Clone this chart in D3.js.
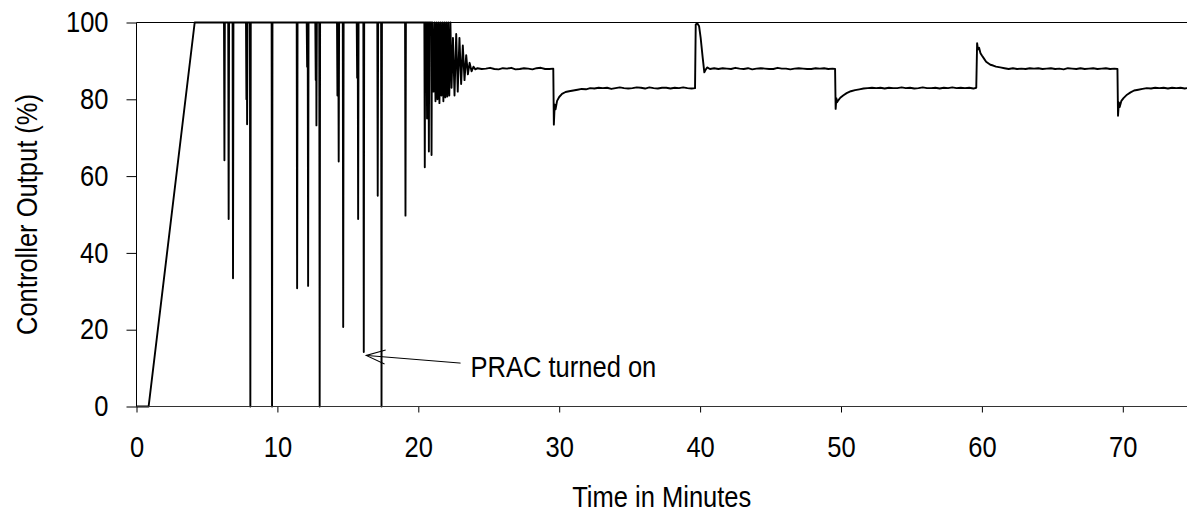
<!DOCTYPE html>
<html>
<head>
<meta charset="utf-8">
<script src="https://cdn.jsdelivr.net/npm/d3@7"></script>
<style>
  html, body { margin: 0; padding: 0; background: #fff; }
  svg { display: block; }
  text { font-family: 'Liberation Sans', Arial, sans-serif; fill: #000; }
</style>
</head>
<body>
<svg id="chart" width="1187" height="522"></svg>
<script>
// ---------------- data ----------------
const xTicks = [0, 10, 20, 30, 40, 50, 60, 70];
const yTicks = [0, 20, 40, 60, 80, 100];
const xTitle = "Time in Minutes";
const yTitle = "Controller Output (%)";
const noteText = "PRAC turned on";
const noteTip = [16.3, 13.3];   // minutes, %
const noteTail = [23.0, 11.3];

// start-up ramp
const rampTime   = [0, 0.86, 4.13];
const rampOutput = [0, 0, 100];

// saturated period: output sits at 100 with narrow drops
const spikeTime = [6.24, 6.54, 6.85, 7.80, 7.85, 8.08, 9.62, 11.40, 12.11, 12.18, 12.72, 12.77, 13.00,
                   14.26, 14.35, 14.67, 15.66, 15.73, 16.13, 17.12, 17.39, 19.09, 20.46, 20.62, 20.75, 20.94];
const spikeMin  = [64.1, 48.8, 33.4, 80.0, 73.5, 0, 0, 30.8, 88.5, 31.4, 85.0, 73.2, 0,
                   81.0, 63.8, 20.7, 85.6, 48.8, 14.2, 54.9, 0, 49.7, 62.3, 75.0, 66.4, 65.5];

// chattering and settling once PRAC acts
const oscTime = [21.00, 21.08, 21.15, 21.22, 21.29, 21.36, 21.43, 21.50, 21.57, 21.64, 21.71, 21.78, 21.85,
                 21.92, 21.99, 22.06, 22.13, 22.20, 22.28, 22.36, 22.46, 22.57, 22.69, 22.80, 22.92, 23.04,
                 23.16, 23.28, 23.40, 23.52, 23.64, 23.78, 23.92, 24.05];
const oscOutput = [100, 82, 100, 79.5, 100, 80, 100, 79, 100, 81, 100, 79.5, 100,
                   80.5, 100, 80.7, 100, 81, 100, 83, 96, 81, 97, 82, 96, 84,
                   94, 85, 91.5, 86.5, 89.5, 87.3, 88.5, 87.8];

// regulated run with set-point steps every 10 minutes
const runTime = [
  24.2, 24.5, 24.8, 25.1, 25.4, 25.7, 26.0, 26.3, 26.6, 26.9, 27.2, 27.5, 27.8, 28.1, 28.4, 28.7, 29.0, 29.3, 29.58,
  29.62, 29.68, 29.74, 29.85, 30.0, 30.2, 30.45, 30.7, 31.0, 31.3, 31.6, 31.9, 32.2,
  32.5, 32.8, 33.1, 33.4, 33.7, 34.0, 34.3, 34.6, 34.9, 35.2, 35.5, 35.8, 36.1, 36.4, 36.7, 37.0, 37.3, 37.6, 37.9,
  38.2, 38.5, 38.8, 39.1, 39.4, 39.64,
  39.69, 39.8, 39.93, 40.04, 40.18, 40.3, 40.38, 40.5, 40.7, 41.0,
  41.3, 41.6, 41.9, 42.2, 42.5, 42.8, 43.1, 43.4, 43.7, 44.0, 44.3, 44.6, 44.9, 45.2, 45.5, 45.8, 46.1, 46.4, 46.7,
  47.0, 47.3, 47.6, 47.9, 48.2, 48.5, 48.8, 49.1, 49.4, 49.58,
  49.62, 49.67, 49.72, 49.82, 49.95, 50.15, 50.4, 50.7, 51.0, 51.3, 51.6,
  51.9, 52.2, 52.5, 52.8, 53.1, 53.4, 53.7, 54.0, 54.3, 54.6, 54.9, 55.2, 55.5, 55.8, 56.1, 56.4, 56.7, 57.0, 57.3,
  57.6, 57.9, 58.2, 58.5, 58.8, 59.1, 59.4, 59.6,
  59.66, 59.72, 59.8, 59.9, 60.0, 60.15, 60.3, 60.45, 60.6, 60.8, 61.0, 61.3, 61.6, 61.9,
  62.2, 62.5, 62.8, 63.1, 63.4, 63.7, 64.0, 64.3, 64.6, 64.9, 65.2, 65.5, 65.8, 66.1, 66.4, 66.7, 67.0, 67.3, 67.6,
  67.9, 68.2, 68.5, 68.8, 69.1, 69.4, 69.62,
  69.66, 69.72, 69.78, 69.9, 70.05, 70.3, 70.55, 70.8, 71.1, 71.4, 71.7,
  72.0, 72.3, 72.6, 72.9, 73.2, 73.5, 73.8, 74.1, 74.4, 74.7, 75.0
];
const runOutput = [
  88.1, 87.9, 88.0, 88.2, 87.9, 87.8, 88.1, 88.0, 88.2, 87.8, 87.9, 88.1, 88.0, 87.8, 88.1, 88.2, 87.9, 87.9, 88.0,
  73.4, 78.6, 77.4, 79.6, 80.6, 81.4, 81.9, 82.1, 82.3, 82.5, 82.7, 82.6, 82.9,
  82.8, 83.0, 82.9, 83.0, 82.7, 82.9, 83.1, 82.9, 82.8, 82.9, 83.1, 83.0, 82.8, 83.1, 82.9, 82.8, 83.0, 83.0, 82.8,
  83.0, 82.9, 83.1, 82.9, 82.8, 82.9,
  99.5, 99.8, 99.0, 96.0, 91.0, 87.0, 87.6, 88.3, 87.9, 88.1,
  87.9, 88.1, 88.0, 87.9, 88.2, 88.0, 87.9, 88.1, 87.8, 88.0, 88.1, 88.0, 87.9, 87.9, 88.2, 88.0, 88.0, 87.8, 88.0,
  88.1, 88.0, 87.9, 87.9, 88.1, 88.0, 88.1, 87.9, 88.0, 87.9,
  77.5, 80.3, 79.2, 79.8, 80.4, 81.0, 81.6, 82.1, 82.4, 82.6, 82.8,
  82.9, 83.0, 82.9, 83.0, 82.8, 83.0, 82.9, 82.9, 83.1, 82.9, 83.0, 82.8, 82.9, 83.1, 82.9, 82.9, 83.0, 82.8, 83.0,
  82.9, 83.1, 82.9, 83.0, 82.9, 83.0, 82.8, 83.0,
  94.6, 93.0, 93.4, 92.0, 91.4, 90.6, 89.8, 89.4, 89.0, 88.8, 88.5, 88.3, 88.1, 87.9,
  88.1, 87.9, 88.0, 87.9, 88.1, 88.0, 88.1, 87.9, 88.0, 88.1, 87.9, 88.0, 87.8, 88.1, 88.0, 87.9, 88.1, 87.9, 88.0,
  88.1, 87.9, 88.0, 88.1, 87.9, 88.0, 87.9,
  75.7, 79.2, 78.0, 79.6, 80.3, 81.2, 81.8, 82.3, 82.5, 82.7, 82.9,
  82.8, 83.0, 82.9, 83.0, 82.8, 83.0, 82.9, 83.0, 82.8, 83.0, 82.9
];

// ---------------- build series ----------------
const pts = [];
rampTime.forEach((t, i) => pts.push({t, v: rampOutput[i]}));
const spikeHalf = 0.03;
spikeTime.forEach((t, i) => {
  pts.push({t: t - spikeHalf, v: 100});
  pts.push({t, v: spikeMin[i]});
  pts.push({t: t + spikeHalf, v: 100});
});
oscTime.forEach((t, i) => pts.push({t, v: oscOutput[i]}));
runTime.forEach((t, i) => pts.push({t, v: runOutput[i]}));
pts.sort((a, b) => a.t - b.t);

// ---------------- layout ----------------
const svg = d3.select("#chart");
const W = 1187, H = 522;
const plotLeft = 136.5, plotTop = 22.5, plotBottom = 406.5;
const pxPerMin = 14.09;
const x = d3.scaleLinear().domain([0, 75]).range([plotLeft, plotLeft + 75 * pxPerMin]);
const y = d3.scaleLinear().domain([0, 100]).range([plotBottom, plotTop]);
const fontSize = 29;
const narrow = 0.88;   // condensed look of the original face

// top border of plot area
svg.append("line")
  .attr("x1", plotLeft).attr("x2", W).attr("y1", plotTop).attr("y2", plotTop)
  .attr("stroke", "#000").attr("stroke-width", 1);

// data line
svg.append("path")
  .datum(pts)
  .attr("fill", "none")
  .attr("stroke", "#000")
  .attr("stroke-width", 1.9)
  .attr("stroke-linejoin", "round")
  .attr("d", d3.line().x(d => x(d.t)).y(d => y(d.v)));

// x axis
const gx = svg.append("g").attr("transform", `translate(0,${plotBottom})`)
  .call(d3.axisBottom(x).tickValues(xTicks).tickSize(6).tickSizeOuter(0).tickPadding(24));
gx.select(".domain").remove();
gx.append("line").attr("x1", plotLeft).attr("x2", W).attr("y1", 0).attr("y2", 0)
  .attr("stroke", "#333").attr("stroke-width", 1);
gx.selectAll(".tick line").attr("stroke", "#000");
gx.selectAll(".tick text").attr("font-size", fontSize).attr("font-family", null)
  .attr("transform", `scale(${narrow},1)`);

// y axis
const gy = svg.append("g").attr("transform", `translate(${plotLeft},0)`)
  .call(d3.axisLeft(y).tickValues(yTicks).tickSize(10).tickSizeOuter(0).tickPadding(17));
gy.select(".domain").remove();
gy.append("line").attr("x1", 0).attr("x2", 0).attr("y1", plotTop).attr("y2", plotBottom)
  .attr("stroke", "#000").attr("stroke-width", 1);
gy.selectAll(".tick line").attr("stroke", "#000");
gy.selectAll(".tick text").attr("font-size", fontSize).attr("font-family", null)
  .attr("x", -28 / narrow)
  .attr("transform", `scale(${narrow},1)`);

// axis titles
svg.append("text")
  .attr("transform", `translate(${(plotLeft + W) / 2},507) scale(${narrow},1)`)
  .attr("text-anchor", "middle").attr("font-size", fontSize)
  .text(xTitle);
svg.append("text")
  .attr("transform", `translate(37,${(plotTop + plotBottom) / 2}) rotate(-90) scale(${narrow},1)`)
  .attr("text-anchor", "middle").attr("font-size", fontSize)
  .text(yTitle);

// annotation arrow
const tipX = x(noteTip[0]), tipY = y(noteTip[1]);
const tailX = x(noteTail[0]), tailY = y(noteTail[1]);
svg.append("line")
  .attr("x1", tailX).attr("y1", tailY).attr("x2", tipX).attr("y2", tipY)
  .attr("stroke", "#000").attr("stroke-width", 1);
const ang = Math.atan2(tailY - tipY, tailX - tipX) * 180 / Math.PI;
svg.append("path")
  .attr("transform", `translate(${tipX},${tipY}) rotate(${ang})`)
  .attr("d", "M19,-7L0,0L19,7")
  .attr("fill", "none").attr("stroke", "#000").attr("stroke-width", 1);
svg.append("text")
  .attr("transform", `translate(${tailX + 10},${tailY + 14}) scale(${narrow},1)`)
  .attr("font-size", fontSize)
  .text(noteText);
</script>
</body>
</html>
